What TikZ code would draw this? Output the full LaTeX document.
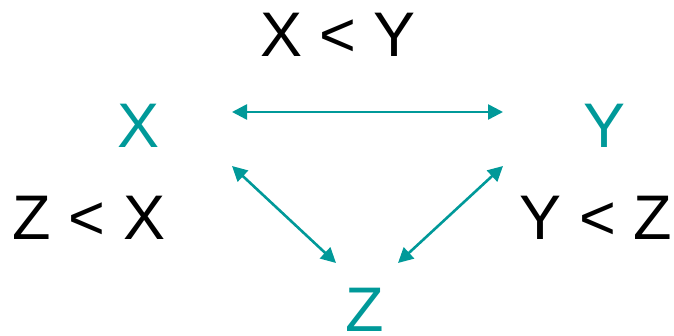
\documentclass[tikz,border=0pt]{standalone}
\usepackage{fontspec}
\setmainfont{Liberation Sans}
\usetikzlibrary{arrows.meta}
\definecolor{verde}{RGB}{0,153,153}

\begin{document}
\begin{tikzpicture}[
        x=1pt, y=1pt,
        letra/.style={text=verde, inner sep=0pt},
        relacao/.style={text=black, inner sep=0pt},
        seta/.style={draw=verde, line width=2.6pt,
            {Triangle[length=15pt,width=15pt]}-{Triangle[length=15pt,width=15pt]}},
        every node/.style={font=\fontsize{63}{70}\selectfont}
    ]

        \useasboundingbox (0,0) rectangle (674,336);

        % ==================================================
        % ELEMENTOS
        % ==================================================

        \node[letra] (X) at (139,210.5) {X};
        \node[letra] (Y) at (605,210.5) {Y};
        \node[letra] (Z) at (365,26.5) {Z};

        % Relacoes
        \node[relacao] (xy) at (338,301.5) {X < Y};
        \node[relacao] (zx) at (89,118.5) {Z < X};
        \node[relacao] (yz) at (596,118.5) {Y < Z};

        % Pontas das setas
        \coordinate (X1) at (232,224);
        \coordinate (Y1) at (503,224);
        \coordinate (X2) at (232,170);
        \coordinate (Y2) at (503,170);
        \coordinate (Z1) at (336,73);
        \coordinate (Z2) at (398,73);

        % Setas
        \draw[seta] (X1) -- (Y1);
        \draw[seta] (X2) -- (Z1);
        \draw[seta] (Y2) -- (Z2);

    \end{tikzpicture}
\end{document}
